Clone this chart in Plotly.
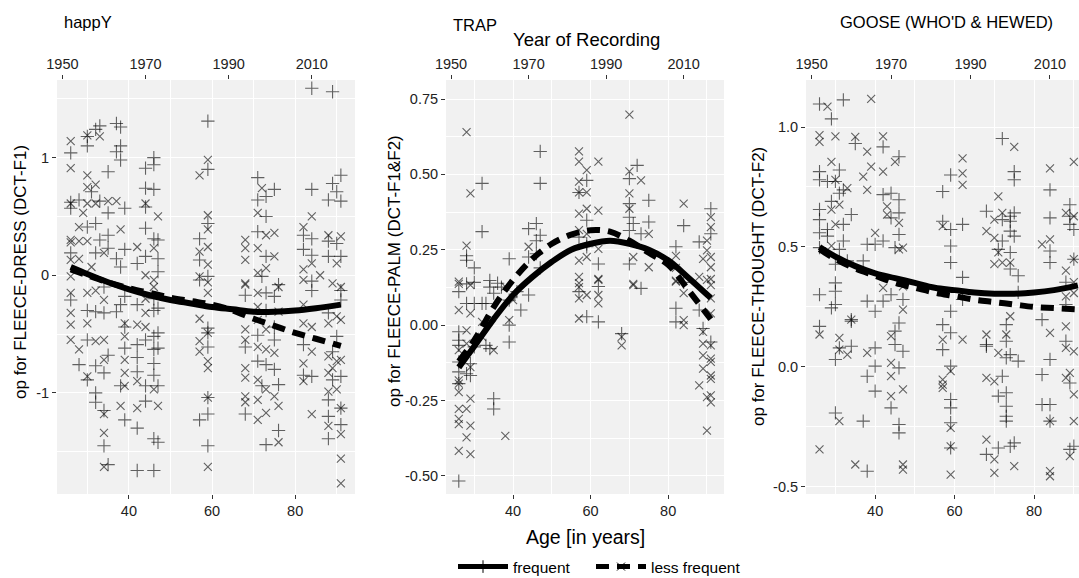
import plotly.graph_objects as go

# ---------------- data ----------------
YEAR_OFFSET = 1926  # Year of Recording = age + offset (secondary axis)
year_ticks = [1950, 1970, 1990, 2010]
age_ticks = [40, 60, 80]

curve_age = [26, 30, 35, 40, 45, 50, 55, 60, 65, 70, 75, 80, 85, 91]

# happY
p1_fit_freq = [0.07, 0.01, -0.06, -0.12, -0.17, -0.21, -0.24, -0.27, -0.29, -0.31, -0.31, -0.30, -0.28, -0.25]
p1_fit_less = [0.05, 0.00, -0.06, -0.11, -0.15, -0.19, -0.22, -0.25, -0.30, -0.37, -0.43, -0.49, -0.54, -0.60]
p1_freq_age = [30, 30, 32, 33, 37, 38, 37, 38, 38, 31, 35, 28, 33, 39, 35, 30, 32, 33, 35, 32, 37, 38, 39, 35,
               44, 46, 46, 44, 46, 44, 44, 46, 47, 44, 47, 42, 47,
               59, 59, 59, 57, 57, 59,
               71, 73, 75, 71, 73, 71, 73, 72, 76,
               84, 89, 88, 91, 89, 90, 91, 84, 82, 84, 88, 90, 82, 84, 88, 91, 84, 26, 26, 26, 26,
               26, 28, 30, 30, 30, 32, 32, 32, 32, 34, 34, 34, 34, 34, 35, 35, 38, 39, 39, 38, 39, 37, 39,
               42, 42, 42, 42, 42, 42, 44, 44, 44, 46, 46, 46, 46, 46, 46, 46, 46, 47, 47, 47, 47, 47,
               57, 59, 59, 59, 59, 59, 59, 57,
               68, 68, 68, 71, 71, 72, 73, 73, 73, 73, 75, 75, 75, 75, 76, 76,
               82, 82, 84, 84, 88, 88, 88, 88, 89, 89, 90, 91, 91, 91, 91, 91]
p1_freq_val = [1.18, 1.10, 1.24, 1.27, 1.29, 1.26, 1.05, 1.10, 0.98, 0.71, 0.88, 0.64, 0.63, 0.57, 0.53, 0.41, 0.44, 0.30, 0.34, 0.19, 0.14, 0.07, 0.22, 0.23,
               0.91, 1.00, 0.94, 0.74, 0.73, 0.58, 0.40, 0.31, 0.30, 0.16, 0.14, 0.10, 0.03,
               1.31, 0.90, 0.44, 0.31, 0.13, -0.01,
               0.83, 0.67, 0.73, 0.64, 0.50, 0.37, 0.16, -0.01, -0.08,
               1.59, 1.56, 0.64, 0.85, 0.78, 0.71, 0.63, 0.73, 0.34, 0.31, 0.29, 0.27, 0.22, 0.17, 0.16, 0.16, -0.05, 1.04, 0.57, 0.19, 0.62,
               -0.21, -0.76, -0.30, -0.55, -0.89, -0.31, -0.77, -1.00, -1.08, -0.10, -0.32, -0.83, -1.15, -1.45, -1.61, -0.68, -0.25, -0.44, -0.62, -0.94, -1.23, -0.31, -0.18,
               -0.25, -0.59, -0.70, -0.82, -1.30, -1.66, -0.94, -1.07, -0.55, -0.20, -0.30, -0.52, -0.63, -0.75, -0.85, -1.39, -1.66, -0.49, -0.62, -0.94, -1.42, -0.28,
               -1.23, -0.45, -0.49, -0.61, -1.04, -1.18, -1.45, -0.04,
               -0.17, -0.61, -1.18, -0.51, -0.73, -0.94, -0.15, -0.30, -0.76, -1.44, -0.18, -0.44, -0.55, -0.80, -0.93, -1.32,
               -0.59, -0.85, -0.86, -0.13, -0.32, -1.06, -1.20, -1.39, -0.65, -0.89, -0.52, -0.13, -0.86, -1.13, -1.27, -0.21]
p1_less_age = [26, 26, 26, 26, 26, 26, 30, 33, 30, 30, 32, 29, 30, 32, 35, 37, 28, 30, 28, 38, 34, 28, 31, 26,
               44, 47, 42, 46, 44, 46,
               59, 57, 59, 59, 59, 57, 59, 57,
               72, 71, 68, 73, 75, 68, 71, 75, 68, 68, 73, 71,
               84, 82, 88, 91, 84, 90, 82, 86, 82, 89, 91,
               26, 26, 26, 26, 28, 30, 30, 30, 32, 34, 34, 34, 34, 34, 34, 32,
               39, 39, 39, 39, 38, 39,
               42, 42, 42, 44, 44, 46, 47, 46, 44,
               57, 57, 57, 59, 59, 59, 59, 59, 59, 59,
               68, 68, 68, 68, 68, 68, 68, 71, 71, 71, 71, 71, 71, 71, 73, 73, 73, 73, 75, 75, 76, 76, 76, 76,
               82, 82, 82, 82, 84, 84, 84, 88, 88, 88, 88, 88, 89, 90, 90, 90, 91, 91, 91, 91, 91, 91]
p1_less_val = [1.14, 0.91, 0.61, 0.30, 0.13, -0.01, 1.19, 1.18, 0.85, 0.75, 0.77, 0.53, 0.61, 0.61, 0.63, 0.63, 0.41, 0.29, 0.29, 0.39, 0.19, 0.14, 0.07, 0.28,
               0.61, 0.50, 0.24, 0.23, 0.00, -0.04,
               0.98, 0.85, 0.51, 0.39, 0.24, 0.20, 0.09, -0.01,
               0.74, 0.53, 0.30, 0.34, 0.36, 0.23, 0.23, 0.16, 0.13, -0.07, 0.06, 0.02,
               0.50, 0.41, 0.34, 0.33, 0.10, 0.10, 0.05, 0.00, -0.04, -0.07, -0.10,
               -0.15, -0.32, -0.42, -0.55, -0.63, -0.15, -0.41, -0.86, -0.56, -0.21, -0.55, -0.72, -1.18, -1.34, -1.63, -0.13,
               -0.41, -0.72, -0.83, -0.94, -1.11, -0.52,
               -0.42, -0.90, -1.13, -0.32, -0.44, -0.97, -1.11, -0.10, -0.20,
               -0.37, -0.56, -0.65, -0.15, -0.49, -0.73, -0.79, -1.04, -1.63, -0.06,
               -0.08, -0.46, -0.55, -0.79, -0.87, -1.03, -1.08, -0.15, -0.27, -0.38, -0.61, -0.89, -1.06, -1.23, -0.46, -0.63, -0.97, -1.17, -0.66, -1.03, -1.11, -1.42, -0.10, -0.31,
               -0.25, -0.41, -0.75, -0.90, -0.44, -0.65, -1.18, -0.41, -0.69, -0.83, -1.28, -0.99, -0.79, -0.73, -0.97, -0.35, -0.38, -0.72, -1.13, -1.35, -1.56, -1.77]

# TRAP
p2_fit_freq = [-0.14, -0.07, 0.02, 0.10, 0.16, 0.21, 0.25, 0.27, 0.28, 0.27, 0.25, 0.215, 0.16, 0.09]
p2_fit_less = [-0.12, -0.05, 0.06, 0.15, 0.22, 0.27, 0.30, 0.315, 0.31, 0.28, 0.24, 0.20, 0.12, 0.02]
p2_freq_age = [28, 28, 30, 28, 30, 34, 34, 39, 37, 32, 32, 47, 47, 44, 46, 47, 46, 46, 47, 44,
               57, 57, 59, 59, 59, 59, 62, 72, 70, 70, 70, 71, 70, 73, 70, 75, 75, 84, 82, 84, 88, 91, 91,
               26, 26, 26, 26, 26, 26, 26, 26, 28, 28, 29, 29, 30, 30, 32, 33, 33, 34, 35, 36, 35, 35, 39, 39, 39, 42, 44, 41,
               57, 59, 62, 62, 68, 73, 82, 82, 88, 89, 91]
p2_freq_val = [0.23, 0.215, 0.19, 0.137, 0.142, 0.148, 0.126, 0.22, 0.126, 0.47, 0.31, 0.576, 0.47, 0.32, 0.337, 0.298, 0.28, 0.237, 0.19, 0.226,
               0.292, 0.44, 0.48, 0.348, 0.27, 0.26, 0.203, 0.53, 0.486, 0.403, 0.358, 0.337, 0.314, 0.303, 0.203, 0.414, 0.342, 0.33, 0.26, 0.142, 0.276, 0.386, 0.303,
               0.111, -0.022, -0.05, -0.122, -0.155, -0.194, -0.517, -0.067, 0.072, -0.161, -0.128, -0.167, 0.072, -0.072, 0.072, 0.072, -0.067, -0.078, 0.106, 0.139, -0.244, -0.278, 0.083, 0.0, -0.056, 0.05, 0.10, 0.111,
               0.111, 0.028, 0.128, 0.011, -0.028, 0.122, 0.056, 0.011, 0.05, -0.011, -0.056]
p2_less_age = [28, 29, 28, 26, 44,
               57, 57, 57, 57, 57, 57, 57, 57, 57, 59, 59, 59, 59, 59, 62, 62, 62, 62,
               70, 70, 73, 70, 70, 71, 71, 75, 75, 84, 82, 82, 82, 90, 91, 91, 90, 91, 91, 91, 89, 88,
               26, 26, 26, 26, 26, 26, 26, 26, 26, 26, 28, 28, 28, 28, 29, 29, 29, 29, 29, 29, 32, 35, 32, 38, 39, 38, 40,
               57, 57, 59, 57, 62, 62, 62, 68, 68, 71, 84, 84, 84, 82,
               89, 89, 89, 89, 88, 91, 91, 91, 91, 91, 90, 91, 91, 90, 91, 91, 90, 91]
p2_less_val = [0.64, 0.437, 0.264, 0.137, 0.26,
               0.576, 0.542, 0.476, 0.44, 0.37, 0.315, 0.214, 0.16, 0.126, 0.514, 0.44, 0.386, 0.303, 0.226, 0.542, 0.38, 0.253, 0.153,
               0.698, 0.51, 0.48, 0.437, 0.386, 0.226, 0.137, 0.303, 0.192, 0.403, 0.23, 0.19, 0.148, 0.28, 0.358, 0.325, 0.248, 0.226, 0.192, 0.153, 0.22, 0.16,
               0.144, 0.05, -0.083, -0.183, -0.194, -0.222, -0.278, -0.311, -0.328, -0.417, -0.017, -0.061, -0.278, -0.372, 0.133, 0.039, -0.139, -0.244, -0.333, -0.428, 0.011, -0.083, -0.039, 0.128, 0.017, -0.367, 0.083,
               0.139, 0.089, 0.10, 0.022, 0.10, 0.072, 0.15, -0.067, -0.039, 0.133, 0.017, 0.0, 0.106, 0.144,
               -0.022, -0.061, -0.10, -0.144, -0.20, -0.067, -0.111, -0.122, -0.167, -0.178, -0.239, -0.233, -0.256, -0.35, 0.039, 0.089, 0.15, 0.133]

# GOOSE (WHO'D & HEWED)
p3_fit_freq = [0.50, 0.46, 0.42, 0.39, 0.37, 0.35, 0.33, 0.32, 0.31, 0.305, 0.305, 0.31, 0.32, 0.34]
p3_fit_less = [0.49, 0.45, 0.41, 0.38, 0.35, 0.33, 0.31, 0.295, 0.28, 0.27, 0.26, 0.25, 0.245, 0.24]
p3_freq_age = [26, 26, 26, 26, 26, 26, 26, 29, 32, 28, 30, 31, 31, 29, 32, 34, 28, 32, 28, 32, 31, 30, 33,
               35, 37, 38, 40, 42, 42, 44, 44, 46, 46, 46, 46, 45, 42,
               57, 57, 59, 59, 59, 59, 62, 62,
               72, 68, 72, 74, 75, 75, 75, 74, 74, 75, 72, 71, 74, 74, 76, 76,
               84, 84, 84, 84, 89, 89, 90, 89, 90, 88,
               26, 26, 30, 30, 30, 29, 31, 30, 34, 34, 34, 30, 37, 38,
               38, 40, 38, 40, 40, 40, 42, 44, 47, 46, 45, 45, 47, 46, 44, 46, 46,
               57, 57, 59, 59, 59, 59, 59, 59, 59, 62,
               68, 68, 71, 72, 73, 73, 73, 73, 73, 73, 73, 74, 76, 68, 71, 74, 75,
               82, 84, 82, 82, 84, 84, 88, 89, 90, 89, 88]
p3_freq_val = [1.096, 0.814, 0.78, 0.656, 0.614, 0.559, 0.497, 1.034, 1.113, 0.773, 0.773, 0.821, 0.724, 0.69, 0.738, 0.635, 0.573, 0.594, 0.545, 0.525, 0.49, 0.428, 0.442,
               0.931, 0.442, 0.511, 0.511, 0.917, 0.718, 0.724, 0.621, 0.876, 0.697, 0.642, 0.552, 0.497, 0.525,
               0.731, 0.607, 0.80, 0.573, 0.504, 0.435, 0.594, 0.373,
               0.952, 0.649, 0.614, 0.628, 0.642, 0.814, 0.78, 0.607, 0.566, 0.545, 0.525, 0.49, 0.477, 0.408, 0.38, 0.311,
               0.738, 0.621, 0.483, 0.435, 0.676, 0.594, 0.573, 0.628, 0.449, 0.353,
               0.169, 0.301, 0.35, 0.315, 0.26, 0.246, 0.079, 0.031, 0.197, 0.19, 0.086, -0.192, -0.226, -0.435,
               0.274, 0.232, -0.039, 0.003, 0.079, -0.101, 0.274, 0.301, 0.281, 0.183, 0.149, 0.093, 0.065, -0.004, -0.171, -0.24, -0.275,
               0.176, 0.072, 0.232, 0.142, 0.003, -0.136, -0.171, -0.233, -0.338, 0.281,
               0.093, 0.086, -0.122, -0.039, -0.108, -0.164, -0.206, -0.226, 0.107, 0.176, 0.038, 0.051, 0.024, -0.365, -0.338, -0.331, -0.317,
               0.197, 0.031, -0.032, -0.157, -0.157, -0.226, 0.107, -0.067, -0.331, -0.344, 0.26]
p3_less_age = [26, 26, 28, 30, 29, 30, 29, 31, 33, 30, 29,
               35, 37, 38, 38, 39, 40, 39,
               42, 42, 43, 43, 45, 46, 46, 47,
               57, 62, 62, 62,
               75, 71, 70, 72, 68, 70, 71, 72, 70, 74,
               84, 84, 82, 90, 88, 90, 90, 88, 90,
               26, 26, 31, 31, 33, 34, 31, 35,
               38, 42, 47, 44, 44, 44, 44, 47, 47, 47, 47,
               57, 57, 57, 57, 59, 59, 59, 59, 62,
               68, 68, 70, 71, 73, 74, 68, 70, 70, 75,
               84, 84, 84, 84, 88, 88, 89, 90, 90, 89, 90, 88, 90, 88]
p3_less_val = [0.966, 0.938, 1.085, 0.961, 0.855, 0.78, 0.656, 0.676, 0.745, 0.594, 0.504,
               0.959, 0.793, 0.897, 0.738, 0.835, 0.559, 1.117,
               0.961, 0.814, 0.669, 0.635, 0.855, 0.60, 0.49, 0.497,
               0.587, 0.869, 0.807, 0.759,
               0.917, 0.711, 0.614, 0.642, 0.566, 0.538, 0.477, 0.435, 0.428, 0.435,
               0.828, 0.532, 0.511, 0.855, 0.642, 0.628, 0.449, 0.401, 0.353,
               0.135, -0.344, 0.121, 0.072, 0.051, 0.197, -0.226, -0.407,
               0.058, 0.329, 0.239, 0.128, 0.017, -0.039, -0.122, -0.094, -0.407, -0.428, 0.336,
               0.114, -0.053, -0.074, -0.088, -0.018, -0.254, -0.331, -0.449, 0.114,
               0.135, -0.046, -0.06, 0.058, 0.135, 0.211, -0.303, -0.386, -0.442, -0.414,
               0.142, -0.226, -0.435, -0.456, 0.079, -0.046, -0.025, -0.115, -0.226, -0.372, 0.065, 0.169, 0.308, 0.294]

panel_titles = ["happY", "TRAP", "GOOSE (WHO'D & HEWED)"]
y_titles = ["op for FLEECE-DRESS (DCT-F1)", "op for FLEECE-PALM (DCT-F1&F2)", "op for FLEECE-THOUGHT (DCT-F2)"]
y_tickvals = [[-1, 0, 1], [-0.5, -0.25, 0, 0.25, 0.5, 0.75], [-0.5, 0, 0.5, 1.0]]
y_ticktext = [["-1", "0", "1"], ["-0.50", "-0.25", "0.00", "0.25", "0.50", "0.75"], ["-0.5", "0.0", "0.5", "1.0"]]
y_minor = [[-1.5, -0.5, 0.5, 1.5], [-0.375, -0.125, 0.125, 0.375, 0.625], [-0.25, 0.25, 0.75]]
legend_labels = ["frequent", "less frequent"]

# ---------------- layout geometry ----------------
W, H = 1079, 578
FONT = "Liberation Sans, Arial, sans-serif"
x_ranges = [[22.7, 94.4], [22.7, 94.4], [22.6, 91.3]]
y_ranges = [[-1.86, 1.66], [-0.56, 0.813], [-0.53, 1.196]]
x_dom_px = [(57, 355), (446, 724), (806, 1079)]
y_dom = [(578 - 494) / H, (578 - 80) / H]

panels = [
    (p1_freq_age, p1_freq_val, p1_less_age, p1_less_val, p1_fit_freq, p1_fit_less),
    (p2_freq_age, p2_freq_val, p2_less_age, p2_less_val, p2_fit_freq, p2_fit_less),
    (p3_freq_age, p3_freq_val, p3_less_age, p3_less_val, p3_fit_freq, p3_fit_less),
]

fig = go.Figure()
pt_col = "rgba(0,0,0,0.6)"
for i, (fa, fv, la, lv, ff, fl) in enumerate(panels):
    xa = "x" if i == 0 else f"x{i+1}"
    ya = "y" if i == 0 else f"y{i+1}"
    fig.add_trace(go.Scatter(x=fa, y=fv, mode="markers", xaxis=xa, yaxis=ya, showlegend=False,
                             marker=dict(symbol="cross-thin", size=9.5, line=dict(width=1.1, color=pt_col))))
    fig.add_trace(go.Scatter(x=la, y=lv, mode="markers", xaxis=xa, yaxis=ya, showlegend=False,
                             marker=dict(symbol="x-thin", size=8, line=dict(width=1.1, color=pt_col))))
    fig.add_trace(go.Scatter(x=curve_age, y=fl, mode="lines", xaxis=xa, yaxis=ya, showlegend=False,
                             line=dict(color="black", width=6, dash="13px,8px", shape="spline")))
    fig.add_trace(go.Scatter(x=curve_age, y=ff, mode="lines", xaxis=xa, yaxis=ya, showlegend=False,
                             line=dict(color="black", width=6, shape="spline")))
    # invisible trace on the top (year) axis
    fig.add_trace(go.Scatter(x=[None], y=[None], xaxis=f"x{i+4}", yaxis=ya, showlegend=False, hoverinfo="skip"))

# legend entries (two separate legends for exact placement)
fig.add_trace(go.Scatter(x=[None], y=[None], mode="lines+markers", name=legend_labels[0], legend="legend",
                         line=dict(color="black", width=5),
                         marker=dict(symbol="cross-thin", size=9, line=dict(width=1, color="black"))))
fig.add_trace(go.Scatter(x=[None], y=[None], mode="lines+markers", name=legend_labels[1], legend="legend2",
                         line=dict(color="black", width=5, dash="13px,8px"),
                         marker=dict(symbol="x-thin", size=8, line=dict(width=1, color="black"))))

legend_common = dict(orientation="h", xanchor="left", y=(H - 567) / H, yanchor="middle",
                     font=dict(family=FONT, size=15.5, color="black"), itemwidth=50,
                     bgcolor="rgba(0,0,0,0)")
tickfont = dict(family=FONT, size=14.5, color="#222")
layout = dict(width=W, height=H, autosize=False, margin=dict(l=0, r=0, t=0, b=0, pad=0, autoexpand=False),
              paper_bgcolor="white", plot_bgcolor="#f1f1f1",
              font=dict(family=FONT, color="black"),
              legend=dict(x=453 / W, **legend_common),
              legend2=dict(x=591 / W, **legend_common),
              annotations=[])

for i in range(3):
    sfx = "" if i == 0 else str(i + 1)
    xd = [x_dom_px[i][0] / W, x_dom_px[i][1] / W]
    layout["xaxis" + sfx] = dict(domain=xd, range=x_ranges[i], tickvals=age_ticks, ticks="outside", ticklen=4,
                                 tickcolor="#333", showgrid=True, gridcolor="white", gridwidth=1.2,
                                 zeroline=False, showline=False, tickfont=tickfont, anchor="y" + sfx, automargin=False,
                                 minor=dict(tickvals=[30, 50, 70, 90], showgrid=True, gridcolor="white", gridwidth=0.6, ticks=""))
    layout["yaxis" + sfx] = dict(domain=y_dom, range=y_ranges[i], tickvals=y_tickvals[i], ticktext=y_ticktext[i],
                                 ticks="outside", ticklen=4, tickcolor="#333", showgrid=True, gridcolor="white",
                                 gridwidth=1.2, zeroline=False, showline=False, tickfont=tickfont, anchor="x" + sfx,
                                 automargin=False,
                                 minor=dict(tickvals=y_minor[i], showgrid=True, gridcolor="white", gridwidth=0.6, ticks=""))
    layout[f"xaxis{i+4}"] = dict(overlaying="x" + sfx, side="top", anchor="y" + sfx,
                                 range=[x_ranges[i][0] + YEAR_OFFSET, x_ranges[i][1] + YEAR_OFFSET],
                                 tickvals=year_ticks, ticks="outside", ticklen=4, tickcolor="#333", automargin=False,
                                 showgrid=False, zeroline=False, showline=False, tickfont=tickfont)

ann = layout["annotations"]
title_pos = [(88, 22), (475, 25), (946, 22)]
for t, (px, py) in zip(panel_titles, title_pos):
    ann.append(dict(text=t, x=px / W, y=1 - py / H, xref="paper", yref="paper", xanchor="center", yanchor="middle",
                    showarrow=False, font=dict(family=FONT, size=16.5, color="black")))
ann.append(dict(text="Year of Recording", x=586 / W, y=1 - 40 / H, xref="paper", yref="paper", xanchor="center",
                yanchor="middle", showarrow=False, font=dict(family=FONT, size=18.5, color="black")))
ann.append(dict(text="Age [in years]", x=585 / W, y=1 - 537 / H, xref="paper", yref="paper", xanchor="center",
                yanchor="middle", showarrow=False, font=dict(family=FONT, size=19.5, color="black")))
ytitle_pos = [(20, 272), (394, 271), (759, 287)]
for t, (px, py) in zip(y_titles, ytitle_pos):
    ann.append(dict(text=t, x=px / W, y=1 - py / H, xref="paper", yref="paper", xanchor="center", yanchor="middle",
                    textangle=-90, showarrow=False, font=dict(family=FONT, size=17, color="black")))

fig.update_layout(**layout)
fig.write_html("out.html", config={"displayModeBar": False},
               post_script="document.body.style.margin='0px';")
